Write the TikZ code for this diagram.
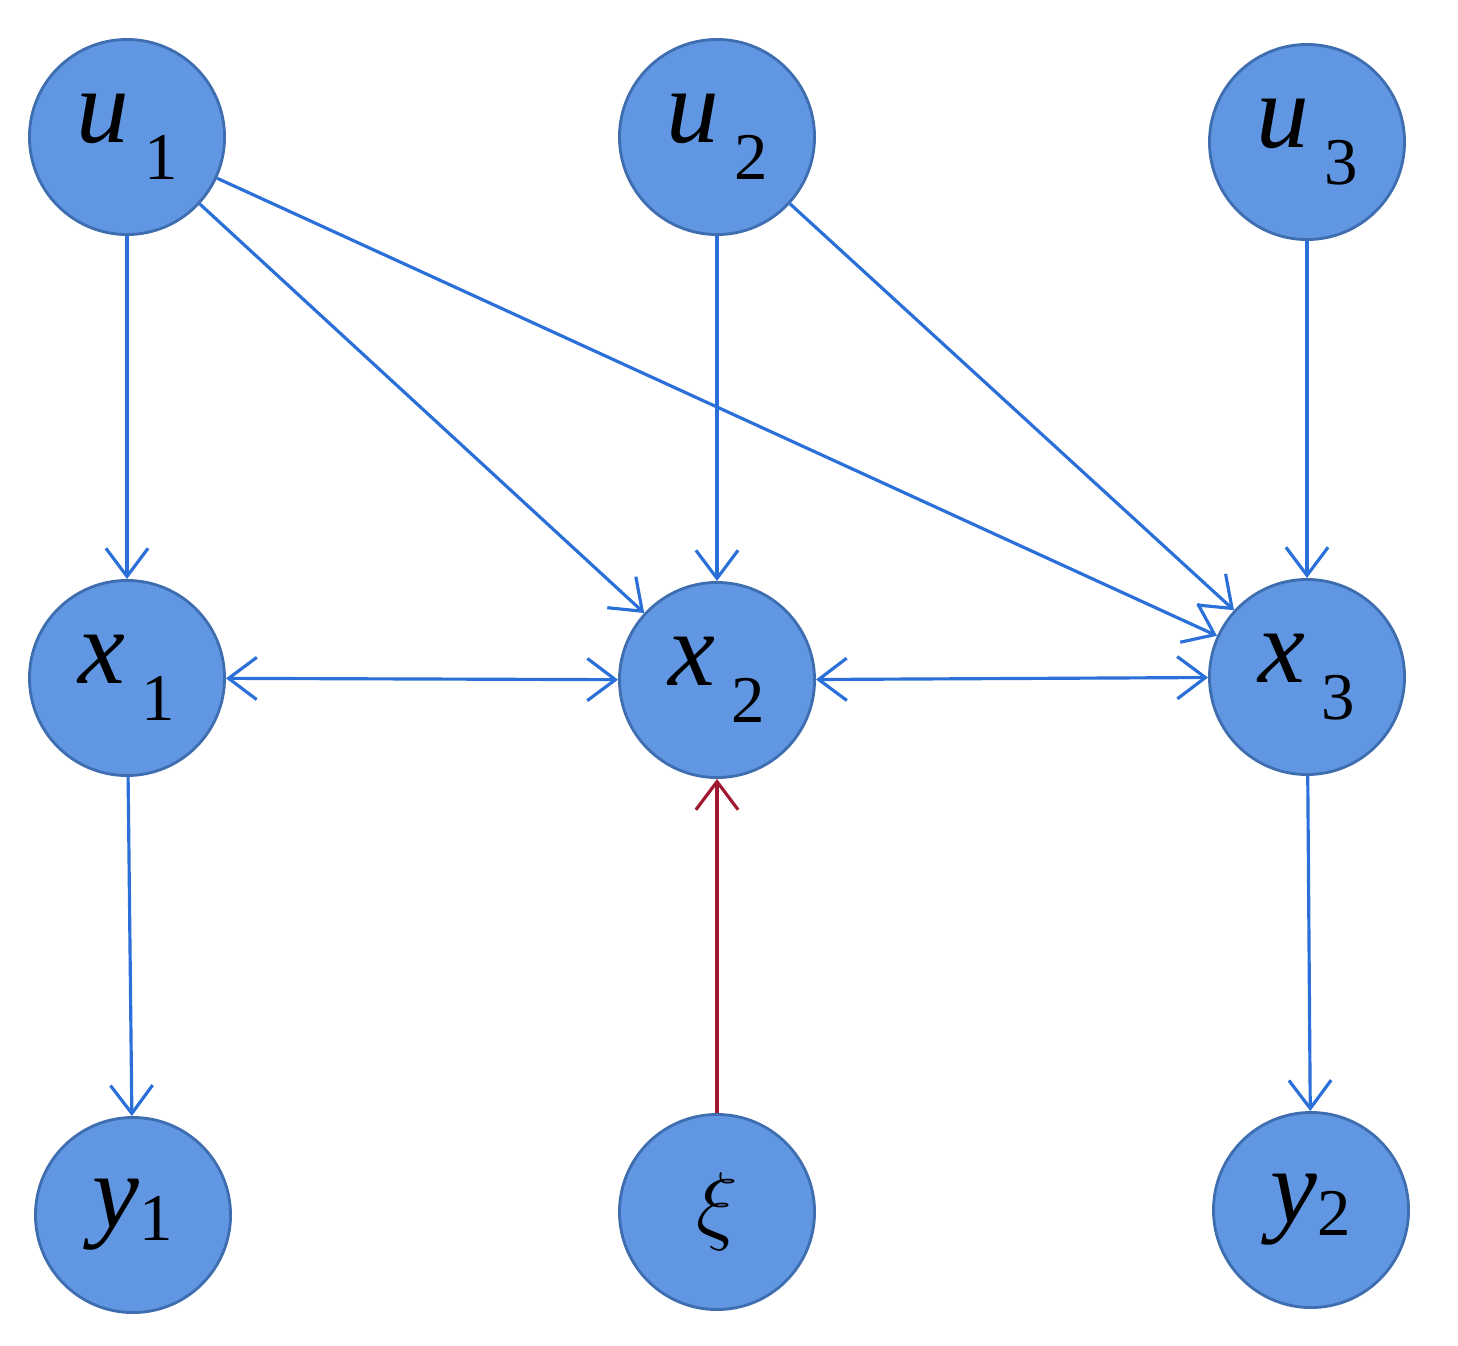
\documentclass[tikz,border=0pt]{standalone}
\usepackage{fontspec}
\setmainfont{Liberation Serif}
\usetikzlibrary{arrows.meta}
\definecolor{nodefill}{HTML}{6096E2}
\definecolor{nodedraw}{HTML}{3E6DB0}
\definecolor{edgeblue}{HTML}{2B6FD8}
\definecolor{edgered}{HTML}{A01830}
\begin{document}
\begin{tikzpicture}[x=0.01cm,y=-0.01cm,
  v/.style={circle,fill=nodefill,draw=nodedraw,line width=0.8pt,minimum size=1.95cm,inner sep=0pt},
  e/.style={draw=edgeblue,line width=0.9pt,-{Straight Barb[length=8pt,width=12pt,line width=0.9pt]}},
  be/.style={e,{Straight Barb[length=8pt,width=12pt,line width=0.9pt]}-{Straight Barb[length=8pt,width=12pt,line width=0.9pt]}},
  re/.style={e,draw=edgered}]
\useasboundingbox (0,0) rectangle (1458,1345);
\newcommand{\lab}[2]{\fontsize{30}{30}\selectfont\itshape #1\hspace{0.15em}\raisebox{-0.35em}{\fontsize{19}{19}\selectfont\upshape #2}}
\node[v] (u1) at (127,137) {\lab{u}{1}};
\node[v] (u2) at (717,137) {\lab{u}{2}};
\node[v] (u3) at (1307,142) {\lab{u}{3}};
\node[v] (x1) at (127,678) {\lab{x}{1}};
\node[v] (x2) at (717,680) {\lab{x}{2}};
\node[v] (x3) at (1307,677) {\lab{x}{3}};
\node[v] (y1) at (133,1215) {{\fontsize{30}{30}\selectfont\itshape y}\raisebox{-0.35em}{\fontsize{19}{19}\selectfont 1}};
\node[v] (xi) at (717,1212) {\fontsize{30}{30}\selectfont$\xi$};
\node[v] (y2) at (1311,1210) {{\fontsize{30}{30}\selectfont\itshape y}\raisebox{-0.35em}{\fontsize{19}{19}\selectfont 2}};
\draw[e] (u1) -- (x1);
\draw[e] (u1) -- (x2);
\draw[e] (u1) -- (x3);
\draw[e] (u2) -- (x2);
\draw[e] (u2) -- (x3);
\draw[e] (u3) -- (x3);
\draw[be] (x1) -- (x2);
\draw[be] (x2) -- (x3);
\draw[e] (x1) -- (y1);
\draw[e] (x3) -- (y2);
\draw[re] (xi) -- (x2);
\end{tikzpicture}
\end{document}
